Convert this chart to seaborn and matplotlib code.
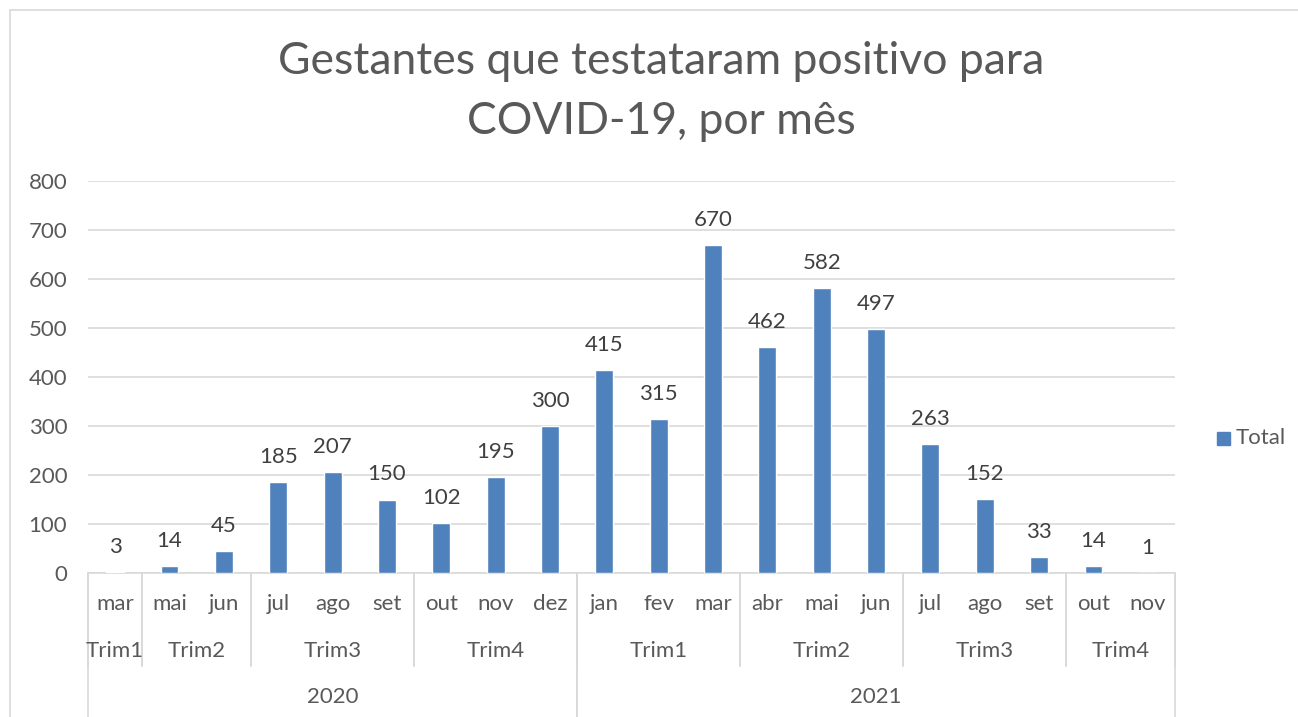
import pandas as pd
import matplotlib.pyplot as plt
import seaborn as sns
from matplotlib.patches import Rectangle
from matplotlib.transforms import blended_transform_factory

anos = ["2020"] * 9 + ["2021"] * 11
trimestres = (["Trim1"] + ["Trim2"] * 2 + ["Trim3"] * 3 + ["Trim4"] * 3
              + ["Trim1"] * 3 + ["Trim2"] * 3 + ["Trim3"] * 3 + ["Trim4"] * 2)
meses = ["mar", "mai", "jun", "jul", "ago", "set", "out", "nov", "dez",
         "jan", "fev", "mar", "abr", "mai", "jun", "jul", "ago", "set", "out", "nov"]
totais = [3, 14, 45, 185, 207, 150, 102, 195, 300,
          415, 315, 670, 462, 582, 497, 263, 152, 33, 14, 1]

df = pd.DataFrame({'Ano': anos, 'Trim': trimestres, 'Mes': meses, 'Total': totais})
df['pos'] = range(len(df))

W, H = 1298, 717
azul = '#4f81bd'
cinza_txt = '#595959'
cinza_linha = '#d9d9d9'
fs = 16

sns.set_style('white')
plt.rcParams['font.family'] = ['Lato', 'DejaVu Sans']

fig = plt.figure(figsize=(W / 100, H / 100), dpi=100)
ax = fig.add_axes([88 / W, (H - 573) / H, (1175 - 88) / W, (573 - 181) / H])

sns.barplot(x='pos', y='Total', data=df, color=azul, width=0.33,
            saturation=1, ax=ax, zorder=3)

ax.set_ylim(0, 800)
ax.set_xlim(-0.5, len(df) - 0.5)
ax.set_yticks(range(0, 801, 100))
ax.yaxis.grid(True, color=cinza_linha, lw=1.2, zorder=0)
ax.set_axisbelow(True)
ax.tick_params(axis='y', length=0, pad=15, labelsize=fs, labelcolor=cinza_txt)
ax.set_xticks([])
ax.set_xlabel('')
ax.set_ylabel('')
for s in ['top', 'right', 'left']:
    ax.spines[s].set_visible(False)
ax.spines['bottom'].set_color(cinza_linha)
ax.spines['bottom'].set_linewidth(1.2)

# rótulos de dados
for p, v in zip(df['pos'], df['Total']):
    ax.annotate(str(v), (p, v), xytext=(0, 18), textcoords='offset points',
                ha='center', va='center', fontsize=fs, color='#404040')

# eixo de categorias em três níveis
tr = blended_transform_factory(ax.transData, fig.transFigure)
y_mes, y_trim, y_ano = 1 - 604 / H, 1 - 651 / H, 1 - 697 / H
y_eixo, y_trim_fim, y_fim = 1 - 573 / H, 1 - 666 / H, 0.0

for p, m in zip(df['pos'], df['Mes']):
    ax.text(p, y_mes, m, transform=tr, ha='center', va='center',
            fontsize=fs, color=cinza_txt)

grupos_trim = df.groupby(['Ano', 'Trim'], sort=False)['pos'].agg(['min', 'max']).reset_index()
for _, g in grupos_trim.iterrows():
    ax.text((g['min'] + g['max']) / 2, y_trim, g['Trim'], transform=tr,
            ha='center', va='center', fontsize=fs, color=cinza_txt)
    for xb in [g['min'] - 0.5, g['max'] + 0.5]:
        ax.plot([xb] * 2, [y_eixo, y_trim_fim], transform=tr,
                color=cinza_linha, lw=1.2, clip_on=False)

grupos_ano = df.groupby('Ano', sort=False)['pos'].agg(['min', 'max']).reset_index()
for _, g in grupos_ano.iterrows():
    ax.text((g['min'] + g['max']) / 2, y_ano, g['Ano'], transform=tr,
            ha='center', va='center', fontsize=fs, color=cinza_txt)
    for xb in [g['min'] - 0.5, g['max'] + 0.5]:
        ax.plot([xb] * 2, [y_eixo, y_fim], transform=tr,
                color=cinza_linha, lw=1.2, clip_on=False)

# título
fig.text(661 / W, 1 - 62 / H, 'Gestantes que testataram positivo para',
         ha='center', va='center', fontsize=32, color=cinza_txt)
fig.text(661 / W, 1 - 122 / H, 'COVID-19, por mês',
         ha='center', va='center', fontsize=32, color=cinza_txt)

# legenda
fig.patches.append(Rectangle((1217 / W, 1 - 445 / H), 13 / W, 13 / H,
                             transform=fig.transFigure, color=azul))
fig.text(1236 / W, 1 - 438 / H, 'Total', ha='left', va='center',
         fontsize=fs, color=cinza_txt)

# moldura do gráfico
fig.patches.append(Rectangle((10 / W, -0.05), 1.1, 1 - 10 / H + 0.05,
                             transform=fig.transFigure, fill=False,
                             edgecolor=cinza_linha, lw=1.2))

fig.savefig('out.png', dpi=100)
